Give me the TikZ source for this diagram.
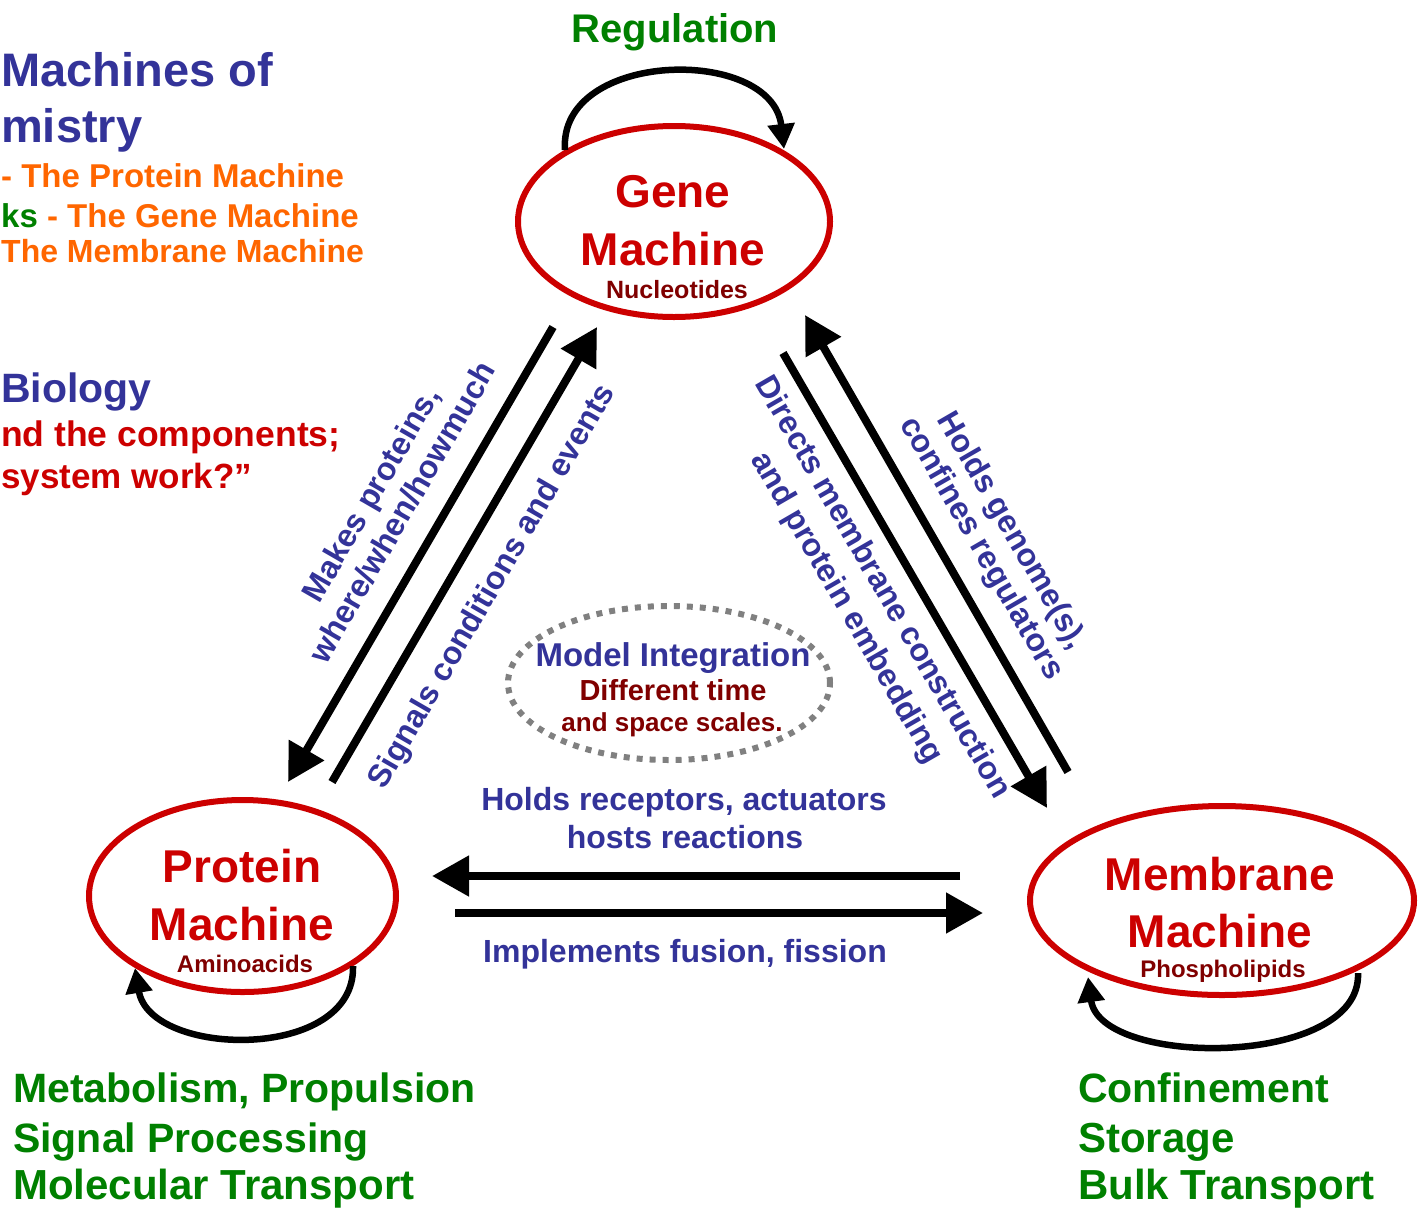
\documentclass[tikz,border=0pt]{standalone}
\usepackage{fontspec}
\setmainfont{Liberation Sans}
\usetikzlibrary{arrows.meta,shapes.geometric}
\definecolor{cblue}{HTML}{333399}
\definecolor{cred}{HTML}{CC0000}
\definecolor{cdred}{HTML}{800000}
\definecolor{cgreen}{HTML}{008000}
\definecolor{corange}{HTML}{FF6600}
\definecolor{cgray}{HTML}{808080}
\newcommand{\fsz}[1]{\fontsize{#1}{#1}\selectfont\bfseries}
\newcommand{\fszb}[2]{\fontsize{#1}{#2}\selectfont\bfseries}
\begin{document}
\begin{tikzpicture}[x=1pt,y=-1pt,
  machine/.style={ellipse, draw=cred, line width=6pt, inner sep=0pt},
  bigtxt/.style={font=\fsz{46}, text=cred, anchor=base, inner sep=0pt},
  subtxt/.style={font=\fsz{25}, text=cdred, anchor=base, inner sep=0pt},
  edgelbl/.style={font=\fsz{32}, text=cblue, inner sep=0pt, align=center},
  greentxt/.style={font=\fsz{41}, text=cgreen, anchor=base west, inner sep=0pt},
  titletxt/.style={font=\fsz{47}, text=cblue, anchor=base west, inner sep=0pt},
  orangetxt/.style={font=\fsz{33}, text=corange, anchor=base west, inner sep=0pt},
  redtxt/.style={font=\fsz{35}, text=cred, anchor=base west, inner sep=0pt},
  bigarrow/.style={line width=8pt, -{Triangle[length=37pt,width=39pt]}},
  selfloop/.style={line width=6.5pt, -{Triangle[length=25pt,width=26pt]}}
]
\useasboundingbox (0,0) rectangle (1420,1210);

% machines
\node[machine, minimum width=312pt, minimum height=191pt] (gene) at (674,221.5) {};
\node[machine, minimum width=307pt, minimum height=192pt] (protein) at (242.5,896) {};
\node[machine, minimum width=384pt, minimum height=189pt] (membrane) at (1222,900.5) {};
\node[ellipse, draw=cgray, line width=6pt, dash pattern=on 6pt off 7pt,
      minimum width=322pt, minimum height=154pt, inner sep=0pt] (model) at (669,683) {};

% machine texts
\node[bigtxt] (geneA) at (673,207) {Gene};
\node[bigtxt] (geneB) at (673,265) {Machine};
\node[subtxt] (geneC) at (677,298) {Nucleotides};
\node[bigtxt] (protA) at (242,882) {Protein};
\node[bigtxt] (protB) at (242,940) {Machine};
\node[subtxt, font=\fsz{24}] (protC) at (245,972) {Aminoacids};
\node[bigtxt] (memA) at (1220,890) {Membrane};
\node[bigtxt] (memB) at (1220,947) {Machine};
\node[subtxt, font=\fsz{24}] (memC) at (1223,977) {Phospholipids};

% model integration
\node[font=\fsz{33}, text=cblue, anchor=base, inner sep=0pt] (modA) at (673,666) {Model Integration};
\node[font=\fsz{29}, text=cdred, anchor=base, inner sep=0pt] (modB) at (673,700) {Different time};
\node[font=\fsz{26}, text=cdred, anchor=base, inner sep=0pt] (modC) at (672,731) {and space scales.};

% arrow end points
\coordinate (gp0) at (553,327); \coordinate (gp1) at (288,782);
\coordinate (pg0) at (332,782); \coordinate (pg1) at (597,327);
\coordinate (gm0) at (783,353); \coordinate (gm1) at (1047,808);
\coordinate (mg0) at (1068,772); \coordinate (mg1) at (805,315);
\coordinate (mp0) at (960,876); \coordinate (mp1) at (432,876);
\coordinate (pm0) at (455,913); \coordinate (pm1) at (983,913);

\draw[bigarrow] (gp0) -- (gp1);
\draw[bigarrow] (pg0) -- (pg1);
\draw[bigarrow] (gm0) -- (gm1);
\draw[bigarrow] (mg0) -- (mg1);
\draw[bigarrow] (mp0) -- (mp1);
\draw[bigarrow] (pm0) -- (pm1);

% self loops
\coordinate (gl0) at (565,150); \coordinate (gl1) at (784,149);
\coordinate (pl0) at (353,966); \coordinate (pl1) at (135,968);
\coordinate (ml0) at (1358,973); \coordinate (ml1) at (1088,977);
\draw[selfloop] (gl0) .. controls (558,50) and (772,45) .. (gl1);
\draw[selfloop] (pl0) .. controls (356,1062) and (150,1058) .. (pl1);
\draw[selfloop] (ml0) .. controls (1362,1068) and (1100,1068) .. (ml1);

% edge labels
\node[edgelbl, font=\fszb{32}{36}, rotate=60] (lblA) at (386,503) {Makes proteins,\\where/when/howmuch};
\node[edgelbl, rotate=60] (lblB) at (493,587) {Signals conditions and events};
\node[edgelbl, font=\fszb{32}{41}, rotate=-60] (lblC) at (864,598) {Directs membrane construction\\and protein embedding};
\node[edgelbl, font=\fszb{32}{35}, rotate=-60] (lblD) at (996,540) {Holds genome(s),\\confines regulators};
\node[edgelbl, anchor=base] (lblE1) at (684,810) {Holds receptors, actuators};
\node[edgelbl, anchor=base] (lblE2) at (685,848) {hosts reactions};
\node[edgelbl, anchor=base] (lblF) at (685,962) {Implements fusion, fission};

% regulation & functions
\node[font=\fsz{40}, text=cgreen, anchor=base, inner sep=0pt] (reg) at (675,42) {Regulation};
\node[greentxt] (pf1) at (13,1102) {Metabolism, Propulsion};
\node[greentxt] (pf2) at (13,1152) {Signal Processing};
\node[greentxt, font=\fsz{42}] (pf3) at (13,1199) {Molecular Transport};
\node[greentxt] (mf1) at (1078,1102) {Confinement};
\node[greentxt, font=\fsz{42}] (mf2) at (1078,1152) {Storage};
\node[greentxt, font=\fsz{42}] (mf3) at (1078,1199) {Bulk Transport};

% top-left texts
\node[titletxt] (t1) at (1,86) {Machines of};
\node[titletxt] (t2) at (1,142) {mistry};
\node[orangetxt] (o1) at (1,187) {- The Protein Machine};
\node[orangetxt] (o2) at (1,227) {\textcolor{cgreen}{ks} - The Gene Machine};
\node[orangetxt, font=\fsz{32}] (o3) at (1,262) {The Membrane Machine};
\node[titletxt, font=\fsz{41}] (t3) at (1,402) {Biology};
\node[redtxt, font=\fsz{35.5}] (r1) at (1,446) {nd the components;};
\node[redtxt] (r2) at (1,488) {system work?”};
\end{tikzpicture}
\end{document}
